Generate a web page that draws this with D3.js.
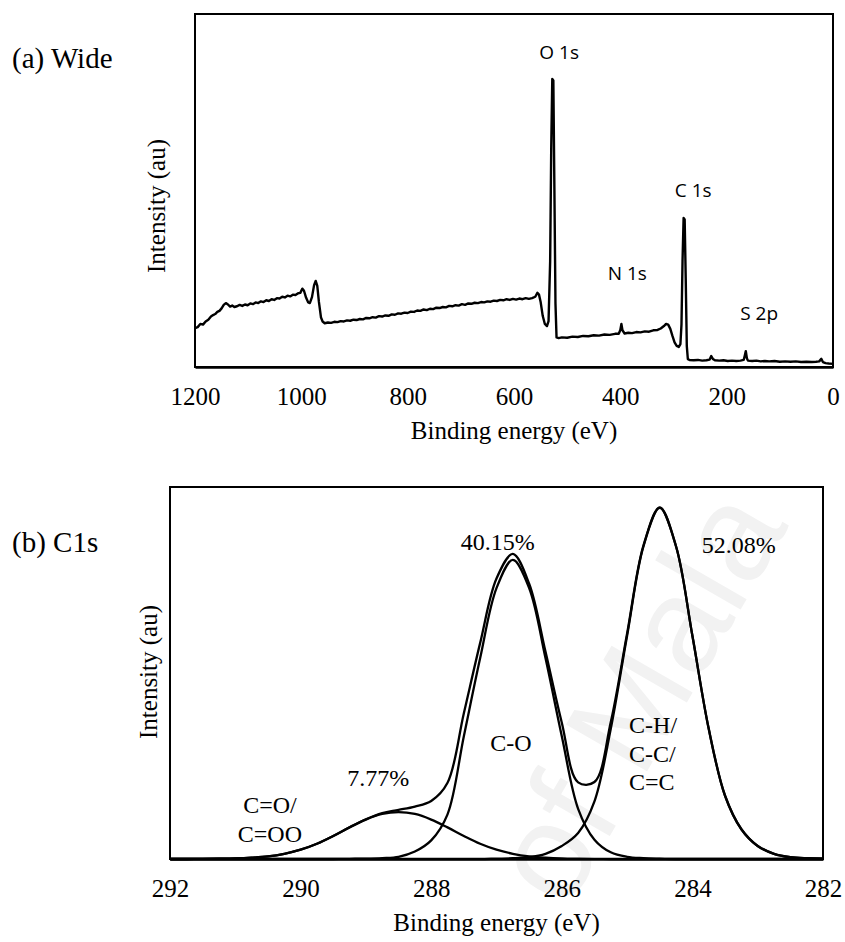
<!DOCTYPE html>
<html>
<head>
<meta charset="utf-8">
<script src="https://d3js.org/d3.v7.min.js"></script>
<style>
  body { margin: 0; background: #fff; }
  svg { display: block; }
</style>
</head>
<body>
<div id="chart"></div>
<script>
// (a) wide scan, binding energy (eV) and intensity (au, 0-100)
const wideEnergy = [1200,1195,1190,1185,1180,1175,1170,1166,1162,1158,1154,1150,1146,1142,1138,1134,1130,1126,1121,1116,1111,1106,1101,1096,1091,1086,1081,1076,1071,1066,1061,1056,1051,1046,1041,1036,1031,1026,1021,1016,1011,1006,1002,998,995,991,987,984,980,976,973,970,967,963,960,956,950,944,938,932,926,920,914,908,902,896,890,884,878,872,866,860,854,848,842,836,830,824,818,812,806,800,794,788,782,776,770,764,758,752,746,740,734,728,722,716,710,704,698,692,686,680,674,668,662,656,650,644,638,632,626,620,614,608,602,596,590,584,578,572,566,560,556,553,550,546,542,538,535,532,530,528,526,524,522,520,516,510,500,490,480,470,460,450,440,430,420,410,403,400,398,396,392,385,378,370,362,354,346,338,330,324,318,314,310,306,302,298,294,290,287,285,283,281,279,277,275,273,270,262,254,246,238,232,229,226,222,214,206,198,190,182,174,168,166,164,162,160,152,144,136,128,120,110,100,90,80,70,60,50,40,32,26,22,19,14,8,0];
const wideIntensity = [11.0,11.3,12.2,12.0,12.9,13.4,14.3,14.7,15.0,15.6,15.9,16.6,17.6,18.1,17.7,17.1,17.4,17.0,17.2,17.6,17.3,17.7,17.5,18.0,17.8,18.3,18.1,18.6,18.4,18.9,18.7,19.2,19.0,19.5,19.4,19.9,19.7,20.2,20.0,20.5,20.4,20.9,21.0,22.2,21.6,19.6,18.3,18.1,19.8,23.2,24.4,23.0,18.5,14.0,12.9,12.4,12.6,12.5,12.8,12.7,13.0,12.9,13.2,13.1,13.4,13.3,13.6,13.5,13.9,13.8,14.1,14.0,14.4,14.3,14.6,14.5,14.9,14.8,15.2,15.1,15.4,15.3,15.7,15.6,16.0,15.9,16.3,16.1,16.5,16.4,16.8,16.7,17.0,16.9,17.3,17.2,17.5,17.4,17.8,17.6,18.0,17.9,18.2,18.1,18.4,18.3,18.6,18.5,18.8,18.7,19.0,18.9,19.2,19.0,19.3,19.1,19.4,19.2,19.5,19.3,19.5,19.9,21.0,20.5,18.5,14.5,12.2,11.6,13.0,30,62,81.6,81.2,50,18,8.4,8.2,8.4,8.3,8.6,8.5,8.8,8.7,9.0,8.9,9.2,9.1,9.4,9.4,10.5,12.2,10.4,9.5,9.7,9.6,9.9,9.8,10.1,10.0,10.4,10.5,10.9,11.6,12.2,12.0,10.8,8.8,7.0,6.0,5.7,6.5,12,30,42.2,41.8,25,6,2.2,2.0,1.9,2.0,1.8,1.9,2.1,3.1,2.3,1.9,1.8,1.9,1.7,1.8,1.7,1.8,2.0,3.2,4.5,2.5,1.8,1.7,1.8,1.6,1.7,1.6,1.7,1.5,1.6,1.5,1.6,1.4,1.5,1.4,1.5,1.6,2.3,1.4,1.1,1.0,0.9];
const wideTicks = [1200, 1000, 800, 600, 400, 200, 0];
const widePeakNames = ["O 1s", "N 1s", "C 1s", "S 2p"];
const widePeakEnergy = [515, 387, 263, 139];
const widePeakLevel = [89, 26.6, 50, 15.3];

// (b) C1s fit, shared energy grid
const c1sEnergy = [292,291.75,291.5,291.25,291,290.75,290.5,290.25,290,289.75,289.5,289.25,289,288.75,288.5,288.25,288,287.75,287.5,287.25,287,286.75,286.5,286.25,286,285.75,285.5,285.25,285,284.75,284.5,284.25,284,283.75,283.5,283.25,283,282.75,282.5,282.25,282];
const compCO2 = [0,0,0.03,0.07,0.15,0.35,0.7,1.4,2.5,4.1,6.2,8.5,10.6,12.1,12.6,12.1,10.6,8.5,6.2,4.1,2.5,1.4,0.7,0.35,0.15,0.07,0.03,0,0,0,0,0,0,0,0,0,0,0,0,0,0];
const compCO = [0,0,0,0,0,0,0,0,0,0,0,0.05,0.1,0.25,0.6,2.0,5.0,12,33,54,72.8,80.4,72.8,54,33,13.5,5.2,1.8,0.6,0.25,0.1,0,0,0,0,0,0,0,0,0,0];
const compCH = [0,0,0,0,0,0,0,0,0,0,0,0,0,0,0,0,0,0,0,0,0.1,0.2,0.5,1.4,3.5,7,15.5,35,60,84,94.4,84,60,35,17,8,3.5,1.4,0.5,0.2,0.1];
const envelope = [0,0,0.03,0.07,0.15,0.35,0.7,1.4,2.5,4.1,6.2,8.55,10.7,12.35,13.2,14.1,15.6,20.5,39.2,58.1,75.4,82.0,74.0,55.75,36.65,20.6,20.7,36.8,60.6,84.25,94.5,84,60,35,17,8,3.5,1.4,0.5,0.2,0.1];
const c1sTicks = [292, 290, 288, 286, 284, 282];
const c1sNotes = [["40.15%"], ["52.08%"], ["C-O"], ["C-H/", "C-C/", "C=C"], ["7.77%"], ["C=O/", "C=OO"]];
const c1sNoteEnergy = [286.98, 283.29, 286.78, 284.97, 288.81, 290.47];
const c1sNoteLevel = [85.2, 84.4, 31.2, 36, 22, 14.5];
const c1sNoteAnchor = ["middle", "middle", "middle", "start", "middle", "middle"];

const serif = "'Liberation Serif', 'Times New Roman', serif";
const sans = "'Open Sans', 'Liberation Sans', sans-serif";

const svg = d3.select("#chart")
  .append("svg")
  .attr("width", 845)
  .attr("height", 942);

svg.append("rect").attr("width", 845).attr("height", 942).attr("fill", "#fff");

// faint watermark behind panel (b)
svg.append("text")
  .attr("transform", "translate(566,912) rotate(-60)")
  .style("font-family", "'Liberation Sans', sans-serif")
  .style("font-size", "136px")
  .attr("fill", "#f2f2f2")
  .text("of Mala");

function panel(box, xDomain, ticks, label, titleY, yLabel) {
  const x = d3.scaleLinear().domain(xDomain).range([box.left, box.right]);
  const y = d3.scaleLinear().domain([0, 100]).range([box.bottom, box.top]);

  svg.append("rect")
    .attr("x", box.left).attr("y", box.top)
    .attr("width", box.right - box.left).attr("height", box.bottom - box.top)
    .attr("fill", "none").attr("stroke", "#000").attr("stroke-width", 2);

  const axis = svg.append("g")
    .attr("transform", `translate(0, ${box.bottom})`)
    .call(d3.axisBottom(x).tickValues(ticks).tickSize(0).tickPadding(20).tickFormat(d3.format("d")));
  axis.select(".domain").attr("stroke", "#000").attr("stroke-width", 2.6);
  axis.selectAll("text")
    .style("font-family", serif).style("font-size", "25px").attr("fill", "#000");

  svg.append("text")
    .attr("x", (box.left + box.right) / 2)
    .attr("y", box.bottom + 72)
    .attr("text-anchor", "middle")
    .style("font-family", serif).style("font-size", "25px")
    .text("Binding energy (eV)");

  svg.append("text")
    .attr("transform", `translate(${yLabel[0]}, ${yLabel[1]}) rotate(-90)`)
    .attr("text-anchor", "middle")
    .style("font-family", serif).style("font-size", "25px")
    .text("Intensity (au)");

  svg.append("text")
    .attr("x", 12).attr("y", titleY)
    .style("font-family", serif).style("font-size", "29px")
    .text(label);

  return { x, y };
}

// ---- (a) Wide ----
const a = panel({ left: 195, right: 833, top: 14, bottom: 367 }, [1200, 0], wideTicks, "(a) Wide", 68, [165, 206]);

svg.append("path")
  .datum(wideEnergy.map((e, i) => [e, wideIntensity[i]]))
  .attr("fill", "none")
  .attr("stroke", "#000")
  .attr("stroke-width", 2.4)
  .attr("stroke-linejoin", "round")
  .attr("d", d3.line().x(d => a.x(d[0])).y(d => a.y(d[1])));

svg.selectAll(".peak-name")
  .data(widePeakNames)
  .enter()
  .append("text")
  .attr("class", "peak-name")
  .attr("x", (d, i) => a.x(widePeakEnergy[i]))
  .attr("y", (d, i) => a.y(widePeakLevel[i]))
  .attr("dy", "0.35em")
  .attr("text-anchor", "middle")
  .style("font-family", sans).style("font-size", "19px")
  .text(d => d);

// ---- (b) C1s ----
const b = panel({ left: 170, right: 823, top: 487, bottom: 859 }, [292, 282], c1sTicks, "(b) C1s", 552, [157, 672]);

const c1sLine = d3.line()
  .x(d => b.x(d[0]))
  .y(d => b.y(d[1]))
  .curve(d3.curveCatmullRom.alpha(0.5));

[compCO2, compCO, compCH, envelope].forEach(series => {
  svg.append("path")
    .datum(c1sEnergy.map((e, i) => [e, series[i]]))
    .attr("fill", "none")
    .attr("stroke", "#000")
    .attr("stroke-width", 2.3)
    .attr("d", c1sLine);
});

c1sNotes.forEach((lines, i) => {
  const t = svg.append("text")
    .attr("x", b.x(c1sNoteEnergy[i]))
    .attr("y", b.y(c1sNoteLevel[i]))
    .attr("text-anchor", c1sNoteAnchor[i])
    .style("font-family", serif).style("font-size", "24px");
  lines.forEach((s, j) => {
    t.append("tspan")
      .attr("x", b.x(c1sNoteEnergy[i]))
      .attr("dy", j === 0 ? "0.35em" : "1.17em")
      .text(s);
  });
});
</script>
</body>
</html>
